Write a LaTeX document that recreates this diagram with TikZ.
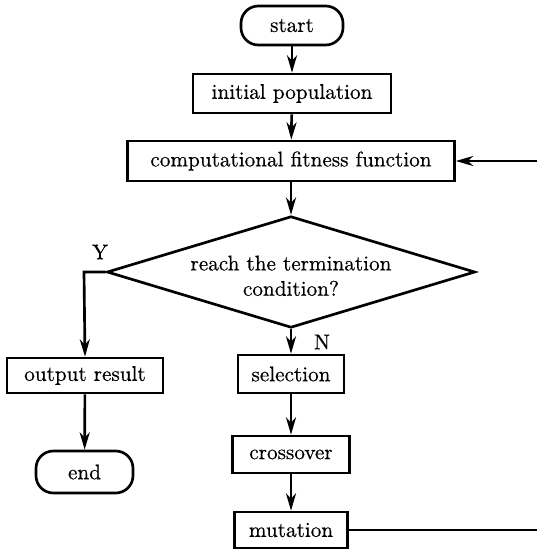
\documentclass[tikz,border=0pt]{standalone}
\usepackage{fontspec}
\setmainfont{lmroman10-regular.otf}[FakeBold=0.5]
\usetikzlibrary{shapes.geometric,arrows.meta}
\begin{document}
\begin{tikzpicture}[x=0.75pt,y=-0.75pt,
  txt/.style={font=\fontsize{15.9}{19}\selectfont},
  box/.style={txt, draw, line width=2pt, rectangle, inner sep=0pt},
  term/.style={box, rounded corners=13pt},
  dec/.style={txt, draw, line width=2pt, diamond, aspect=3.3, inner sep=0pt},
  conn/.style={line width=2pt},
  arr/.style={conn, -{Stealth[length=13pt,width=7.5pt,inset=4pt]}}]
\useasboundingbox (0,0) rectangle (536,552);
% nodes
\node[term, minimum width=76.5pt, minimum height=29.25pt] (start) at (292,25.5) {start};
\node[box, minimum width=148.5pt, minimum height=29.25pt] (init) at (292,93.5) {initial population};
\node[box, minimum width=245.25pt, minimum height=30pt] (fit) at (291,161) {computational fitness function};
\node[dec, minimum width=272.25pt, minimum height=82.5pt] (cond) at (291,272)
  {\raisebox{-4.5pt}[\height][\depth]{\begin{tabular}{@{}c@{}}reach the termination\\ condition?\end{tabular}}};
\node[box, minimum width=117pt, minimum height=26.25pt] (out) at (85,375.5) {output result};
\node[term, minimum width=72.75pt, minimum height=31.5pt] (end) at (84.5,472) {end};
\node[box, minimum width=79.5pt, minimum height=28.5pt] (sel) at (291,374) {selection};
\node[box, minimum width=87.75pt, minimum height=27.75pt] (cross) at (291,454.5) {crossover};
\node[box, minimum width=84.75pt, minimum height=27pt] (mut) at (291,530) {mutation};
\node[txt] (ylab) at (100,252) {Y};
\node[txt] (nlab) at (322,342) {N};
\coordinate (ycorner) at (84,272);
\coordinate (fbbottom) at (538.5,530);
\coordinate (fbtop) at (538.5,161);
% connectors
\draw[arr] (start) -- (init);
\draw[arr] (init) -- (fit);
\draw[arr] (fit) -- (cond);
\draw[arr] (cond.south) -- (sel);
\draw[arr] (sel) -- (cross);
\draw[arr] (cross) -- (mut);
\draw[arr] (cond.west) -- (ycorner) -- (out.north);
\draw[arr] (out) -- (end);
\draw[arr] (mut.east) -- (fbbottom) -- (fbtop) -- (fit.east);
\end{tikzpicture}
\end{document}
